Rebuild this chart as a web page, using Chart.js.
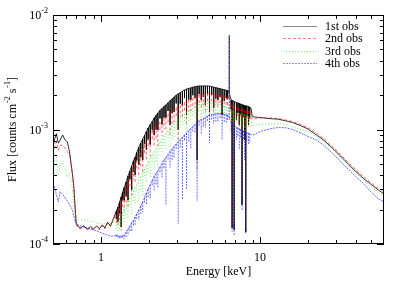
<!DOCTYPE html>
<html>
<head>
<meta charset="utf-8">
<script src="https://cdn.jsdelivr.net/npm/chart.js@4.4.1/dist/chart.umd.min.js"></script>
<style>
  html, body { margin: 0; padding: 0; background: #fff; }
</style>
</head>
<body>
<canvas id="spec" width="407" height="285"></canvas>
<script>
// energy grid shared by the four observations (keV)
var energy = [
  0.50, 0.51, 0.525, 0.54, 0.555, 0.575, 0.595, 0.615, 0.635, 0.655, 0.667, 0.677, 0.687, 0.70,
  0.72, 0.75, 0.78, 0.82, 0.86, 0.90, 0.94, 0.98, 1.02, 1.06, 1.10, 1.15, 1.20,
  1.25, 1.28, 1.31, 1.34, 1.37, 1.40, 1.44, 1.48, 1.52, 1.56,
  1.60, 1.64, 1.68, 1.73, 1.78, 1.83, 1.88, 1.93, 1.98, 2.04,
  2.10, 2.16, 2.22, 2.28, 2.35, 2.42, 2.49, 2.56, 2.64, 2.72,
  2.80, 2.88, 2.97, 3.06, 3.15, 3.25, 3.35, 3.45, 3.56, 3.67,
  3.78, 3.90, 4.02, 4.14, 4.27, 4.40, 4.53, 4.67, 4.81, 4.96,
  5.11, 5.27, 5.43, 5.60, 5.77, 5.95, 6.13, 6.25,
  6.32, 6.40, 6.47, 6.58, 6.67, 6.75, 6.87, 6.97, 7.10, 7.25,
  7.40, 7.55, 7.70, 7.85, 7.98, 8.12, 8.25, 8.45, 8.60, 8.80,
  8.90, 9.20, 9.60, 10.0, 11, 12, 13, 14.5, 16, 18, 20,
  22.5, 25, 28, 32, 36, 40, 45, 50, 55, 60
];

// upper envelope (continuum) of each spectrum, counts cm^-2 s^-1
var cont1 = [
  6.9e-4, 8.1e-4, 9.2e-4, 7.6e-4, 8.1e-4, 8.95e-4, 8.1e-4, 7.8e-4, 6.4e-4, 4.6e-4, 3.75e-4, 3.06e-4, 2.2e-4, 1.5e-4,
  1.42e-4, 1.38e-4, 1.44e-4, 1.35e-4, 1.42e-4, 1.35e-4, 1.44e-4, 1.36e-4, 1.47e-4, 1.38e-4, 1.55e-4, 1.44e-4, 1.68e-4,
  1.94e-4, 2.10e-4, 2.33e-4, 2.57e-4, 2.85e-4, 3.11e-4, 3.48e-4, 3.93e-4, 4.34e-4, 4.80e-4,
  5.31e-4, 5.75e-4, 6.3e-4, 7.03e-4, 7.62e-4, 8.26e-4, 8.86e-4, 9.57e-4, 1.03e-3, 1.106e-3,
  1.17e-3, 1.26e-3, 1.33e-3, 1.393e-3, 1.47e-3, 1.525e-3, 1.59e-3, 1.64e-3, 1.71e-3, 1.785e-3,
  1.85e-3, 1.923e-3, 1.99e-3, 2.05e-3, 2.10e-3, 2.16e-3, 2.21e-3, 2.257e-3, 2.285e-3, 2.31e-3,
  2.34e-3, 2.365e-3, 2.385e-3, 2.40e-3, 2.40e-3, 2.40e-3, 2.40e-3, 2.40e-3, 2.39e-3, 2.37e-3,
  2.345e-3, 2.32e-3, 2.30e-3, 2.275e-3, 2.25e-3, 2.225e-3, 2.20e-3, 2.19e-3,
  2.19e-3, 2.10e-3, 1.96e-3, 1.81e-3, 1.79e-3, 1.774e-3, 1.755e-3, 1.738e-3, 1.72e-3, 1.704e-3,
  1.687e-3, 1.67e-3, 1.65e-3, 1.636e-3, 1.62e-3, 1.61e-3, 1.604e-3, 1.59e-3, 1.572e-3, 1.51e-3,
  1.31e-3, 1.285e-3, 1.28e-3, 1.275e-3, 1.25e-3, 1.24e-3, 1.23e-3, 1.19e-3, 1.15e-3, 1.08e-3, 1.01e-3,
  9.0e-4, 8.1e-4, 7.03e-4, 5.87e-4, 4.95e-4, 4.28e-4, 3.70e-4, 3.30e-4, 2.98e-4, 2.73e-4
];
var cont2 = [
  6.2e-4, 6.9e-4, 7.8e-4, 6.6e-4, 7.3e-4, 7.3e-4, 6.9e-4, 6.4e-4, 6.0e-4, 4.6e-4, 3.75e-4, 2.96e-4, 2.1e-4, 1.47e-4,
  1.38e-4, 1.35e-4, 1.42e-4, 1.33e-4, 1.38e-4, 1.33e-4, 1.42e-4, 1.33e-4, 1.44e-4, 1.35e-4, 1.52e-4, 1.42e-4, 1.65e-4,
  1.79e-4, 1.90e-4, 2.06e-4, 2.24e-4, 2.47e-4, 2.68e-4, 2.99e-4, 3.34e-4, 3.73e-4, 4.13e-4,
  4.56e-4, 5.00e-4, 5.36e-4, 5.75e-4, 6.23e-4, 6.76e-4, 7.32e-4, 7.85e-4, 8.43e-4, 9.04e-4,
  9.70e-4, 1.04e-3, 1.084e-3, 1.117e-3, 1.162e-3, 1.21e-3, 1.26e-3, 1.30e-3, 1.357e-3, 1.407e-3,
  1.45e-3, 1.495e-3, 1.54e-3, 1.578e-3, 1.62e-3, 1.67e-3, 1.72e-3, 1.774e-3, 1.81e-3, 1.846e-3,
  1.884e-3, 1.935e-3, 1.97e-3, 2.00e-3, 2.02e-3, 2.04e-3, 2.06e-3, 2.067e-3, 2.07e-3, 2.063e-3,
  2.04e-3, 2.02e-3, 2.01e-3, 1.99e-3, 1.97e-3, 1.95e-3, 1.93e-3, 1.923e-3,
  1.92e-3, 1.85e-3, 1.774e-3, 1.67e-3, 1.63e-3, 1.604e-3, 1.59e-3, 1.572e-3, 1.556e-3, 1.54e-3,
  1.53e-3, 1.525e-3, 1.51e-3, 1.495e-3, 1.48e-3, 1.47e-3, 1.465e-3, 1.45e-3, 1.435e-3, 1.41e-3,
  1.235e-3, 1.235e-3, 1.248e-3, 1.26e-3, 1.265e-3, 1.26e-3, 1.248e-3, 1.21e-3, 1.174e-3, 1.106e-3, 1.035e-3,
  9.32e-4, 8.34e-4, 7.25e-4, 6.05e-4, 5.11e-4, 4.43e-4, 3.85e-4, 3.41e-4, 3.07e-4, 2.87e-4
];
var cont3 = [
  4.7e-4, 5.4e-4, 5.8e-4, 4.0e-4, 4.9e-4, 5.2e-4, 4.4e-4, 3.85e-4, 4.15e-4, 3.4e-4, 2.7e-4, 2.2e-4, 1.9e-4, 1.72e-4,
  1.65e-4, 1.62e-4, 1.62e-4, 1.6e-4, 1.57e-4, 1.57e-4, 1.52e-4, 1.52e-4, 1.5e-4, 1.5e-4, 1.47e-4, 1.5e-4, 1.55e-4,
  1.56e-4, 1.59e-4, 1.655e-4, 1.79e-4, 1.90e-4, 2.02e-4, 2.20e-4, 2.35e-4, 2.52e-4, 2.70e-4,
  2.90e-4, 3.11e-4, 3.31e-4, 3.62e-4, 3.89e-4, 4.17e-4, 4.52e-4, 4.85e-4, 5.20e-4, 5.64e-4,
  5.99e-4, 6.43e-4, 6.82e-4, 7.25e-4, 7.78e-4, 8.26e-4, 8.77e-4, 9.23e-4, 9.70e-4, 1.02e-3,
  1.073e-3, 1.117e-3, 1.174e-3, 1.222e-3, 1.272e-3, 1.325e-3, 1.365e-3, 1.407e-3, 1.45e-3, 1.495e-3,
  1.54e-3, 1.588e-3, 1.62e-3, 1.653e-3, 1.67e-3, 1.687e-3, 1.697e-3, 1.704e-3, 1.704e-3, 1.704e-3,
  1.697e-3, 1.687e-3, 1.677e-3, 1.66e-3, 1.636e-3, 1.604e-3, 1.572e-3, 1.556e-3,
  1.556e-3, 1.52e-3, 1.48e-3, 1.45e-3, 1.435e-3, 1.421e-3, 1.414e-3, 1.407e-3, 1.40e-3, 1.393e-3,
  1.387e-3, 1.38e-3, 1.372e-3, 1.365e-3, 1.355e-3, 1.345e-3, 1.338e-3, 1.31e-3, 1.285e-3, 1.21e-3,
  1.06e-3, 1.084e-3, 1.10e-3, 1.11e-3, 1.117e-3, 1.123e-3, 1.13e-3, 1.106e-3, 1.052e-3, 1.0e-3, 9.64e-4,
  8.68e-4, 7.82e-4, 6.83e-4, 5.7e-4, 4.8e-4, 4.14e-4, 3.59e-4, 3.16e-4, 2.82e-4, 2.57e-4
];
var cont4 = [
  3.06e-4, 3.2e-4, 2.68e-4, 2.34e-4, 2.86e-4, 2.72e-4, 2.53e-4, 2.38e-4, 2.2e-4, 2.05e-4, 1.9e-4, 1.75e-4, 1.62e-4, 1.52e-4,
  1.47e-4, 1.44e-4, 1.42e-4, 1.38e-4, 1.35e-4, 1.33e-4, 1.3e-4, 1.27e-4, 1.24e-4, 1.22e-4, 1.20e-4, 1.17e-4, 1.17e-4,
  1.20e-4, 1.185e-4, 1.17e-4, 1.17e-4, 1.185e-4, 1.20e-4, 1.27e-4, 1.35e-4, 1.44e-4, 1.53e-4,
  1.60e-4, 1.72e-4, 1.83e-4, 1.98e-4, 2.15e-4, 2.33e-4, 2.545e-4, 2.79e-4, 3.02e-4, 3.30e-4,
  3.59e-4, 3.89e-4, 4.13e-4, 4.38e-4, 4.70e-4, 5.04e-4, 5.42e-4, 5.70e-4, 6.05e-4, 6.43e-4,
  6.76e-4, 7.10e-4, 7.47e-4, 7.85e-4, 8.18e-4, 8.60e-4, 8.95e-4, 9.32e-4, 9.8e-4, 1.02e-3,
  1.062e-3, 1.106e-3, 1.15e-3, 1.198e-3, 1.222e-3, 1.247e-3, 1.272e-3, 1.312e-3, 1.338e-3, 1.35e-3,
  1.365e-3, 1.373e-3, 1.38e-3, 1.383e-3, 1.379e-3, 1.365e-3, 1.346e-3, 1.338e-3,
  1.31e-3, 1.26e-3, 1.21e-3, 1.16e-3, 1.14e-3, 1.117e-3, 1.095e-3, 1.073e-3, 1.05e-3, 1.031e-3,
  1.015e-3, 1.0e-3, 9.85e-4, 9.7e-4, 9.55e-4, 9.45e-4, 9.4e-4, 9.3e-4, 9.23e-4, 9.04e-4,
  8.95e-4, 9.04e-4, 9.32e-4, 9.6e-4, 9.94e-4, 1.025e-3, 1.04e-3, 1.035e-3, 1.0e-3, 9.32e-4, 8.7e-4,
  8.1e-4, 7.32e-4, 6.36e-4, 5.25e-4, 4.46e-4, 3.87e-4, 3.32e-4, 2.83e-4, 2.49e-4, 2.33e-4
];

// narrow lines: energies (on the grid above) and the flux each spike reaches
var lineEnergy = [
  1.25, 1.28, 1.31, 1.34, 1.37, 1.40, 1.44, 1.48, 1.52, 1.56,
  1.60, 1.64, 1.68, 1.73, 1.78, 1.83, 1.88, 1.93, 1.98, 2.04,
  2.10, 2.16, 2.22, 2.28, 2.35, 2.42, 2.49, 2.56, 2.64, 2.72,
  2.80, 2.88, 2.97, 3.06, 3.15, 3.25, 3.35, 3.45, 3.56, 3.67,
  3.78, 3.90, 4.02, 4.14, 4.27, 4.40, 4.53, 4.67, 4.81, 4.96,
  5.11, 5.27, 5.43, 5.60, 5.77, 5.95, 6.13, 6.25,
  6.40, 6.58, 6.67, 6.87, 7.10, 7.25, 7.40, 7.55, 7.70, 7.85, 7.98, 8.12, 8.25, 8.45, 8.60
];
var line1 = [
  1.65e-4, 1.56e-4, 1.86e-4, 1.41e-4, 2.42e-4, 2.40e-4, 2.61e-4, 2.42e-4, 3.69e-4, 2.96e-4,
  4.25e-4, 4.01e-4, 5.36e-4, 4.9e-4, 5.72e-4, 5.42e-4, 7.53e-4, 6.66e-4, 8.24e-4, 7.4e-4,
  9.95e-4, 8.95e-4, 9.98e-4, 9.9e-4, 1.25e-3, 1.11e-3, 1.27e-3, 1.27e-3, 1.45e-3, 1.10e-3,
  1.39e-3, 1.42e-3, 1.69e-3, 9.9e-4, 1.68e-3, 1.63e-3, 1.88e-3, 1.34e-3, 1.83e-3, 1.82e-3,
  1.99e-3, 1.89e-3, 5.4e-4, 2.04e-3, 1.81e-3, 1.92e-3, 1.64e-3, 2.04e-3, 1.42e-3, 2.01e-3,
  1.54e-3, 1.86e-3, 1.81e-3, 1.93e-3, 1.34e-3, 1.78e-3, 1.88e-3, 1.86e-3,
  6.7e-3, 1.5e-3, 1.38e-4, 1.33e-4, 1.21e-3, 1.4e-3, 1.10e-3, 1.35e-3, 2.2e-4, 1.3e-3, 8.1e-4, 1.27e-4, 1.3e-3, 1.10e-3, 1.25e-3
];
var line2 = [
  1.52e-4, 1.44e-4, 1.65e-4, 1.33e-4, 2.10e-4, 1.94e-4, 2.24e-4, 2.06e-4, 3.17e-4, 2.65e-4,
  3.65e-4, 3.34e-4, 4.56e-4, 3.85e-4, 4.67e-4, 4.17e-4, 6.22e-4, 5.48e-4, 6.74e-4, 5.81e-4,
  8.25e-4, 7.25e-4, 8.13e-4, 7.18e-4, 9.88e-4, 8.77e-4, 1.01e-3, 9.6e-4, 1.15e-3, 9.04e-4,
  1.09e-3, 1.13e-3, 1.31e-3, 7.97e-4, 1.30e-3, 1.26e-3, 1.46e-3, 1.10e-3, 1.45e-3, 1.45e-3,
  1.60e-3, 1.55e-3, 4.43e-4, 1.70e-3, 1.53e-3, 1.63e-3, 1.43e-3, 1.76e-3, 1.33e-3, 1.75e-3,
  1.42e-3, 1.62e-3, 1.58e-3, 1.69e-3, 1.27e-3, 1.56e-3, 1.64e-3, 1.63e-3,
  6.55e-3, 1.40e-3, 1.44e-4, 1.38e-4, 1.16e-3, 1.30e-3, 1.03e-3, 1.25e-3, 2.42e-4, 1.22e-3, 8.1e-4, 1.33e-4, 1.20e-3, 1.07e-3, 1.18e-3
];
var line3 = [
  1.33e-4, 1.30e-4, 1.32e-4, 1.30e-4, 1.62e-4, 1.53e-4, 1.65e-4, 1.64e-4, 2.14e-4, 1.81e-4,
  2.32e-4, 2.17e-4, 2.81e-4, 2.42e-4, 2.92e-4, 2.68e-4, 3.84e-4, 3.52e-4, 4.16e-4, 3.77e-4,
  5.09e-4, 4.66e-4, 5.12e-4, 4.66e-4, 6.61e-4, 6.23e-4, 7.02e-4, 6.69e-4, 8.25e-4, 6.56e-4,
  8.05e-4, 8.43e-4, 9.98e-4, 6.69e-4, 1.02e-3, 1.04e-3, 1.16e-3, 9.04e-4, 1.16e-3, 1.22e-3,
  1.31e-3, 1.27e-3, 3.62e-4, 1.41e-3, 1.26e-3, 1.35e-3, 1.18e-3, 1.45e-3, 1.14e-3, 1.45e-3,
  1.23e-3, 1.35e-3, 1.37e-3, 1.41e-3, 1.10e-3, 1.28e-3, 1.34e-3, 1.32e-3,
  6.43e-3, 1.22e-3, 1.50e-4, 1.44e-4, 1.10e-3, 1.18e-3, 9.9e-4, 1.15e-3, 2.52e-4, 1.12e-3, 8.1e-4, 1.38e-4, 1.10e-3, 1.03e-3, 1.06e-3
];
var line4 = [
  1.14e-4, 1.11e-4, 1.11e-4, 1.10e-4, 1.13e-4, 1.10e-4, 1.14e-4, 1.19e-4, 1.30e-4, 1.30e-4,
  1.44e-4, 1.47e-4, 1.65e-4, 1.62e-4, 1.83e-4, 1.90e-4, 2.29e-4, 2.20e-4, 2.57e-4, 2.49e-4,
  3.23e-4, 2.93e-4, 3.30e-4, 3.05e-4, 4.23e-4, 3.81e-4, 4.61e-4, 2.2e-4, 5.45e-4, 4.66e-4,
  5.41e-4, 5.58e-4, 6.72e-4, 1.50e-4, 6.95e-4, 2.42e-4, 8.06e-4, 2.96e-4, 7.84e-4, 6.83e-4,
  9.56e-4, 9.4e-4, 2.36e-4, 1.08e-3, 9.04e-4, 1.06e-3, 1.04e-3, 1.18e-3, 7.62e-4, 1.215e-3,
  1.12e-3, 1.17e-3, 1.175e-3, 1.245e-3, 8.18e-4, 1.16e-3, 1.146e-3, 1.20e-3,
  6.28e-3, 9.5e-4, 1.27e-4, 1.17e-4, 8.1e-4, 8.6e-4, 6.62e-4, 8.3e-4, 1.98e-4, 8.0e-4, 5.42e-4, 1.22e-4, 7.8e-4, 7.32e-4, 7.6e-4
];

var seriesLabels = ['1st obs', '2nd obs', '3rd obs', '4th obs'];
var seriesColors = ['#000000', '#ff0000', '#00e600', '#0000ff'];
var legendColors = ['#888888', '#ff8080', '#80f080', '#9090ff'];
var seriesDash = [[], [3, 2], [1, 2], [2, 1]];
var xMajor = [1, 10];
var xMinor = [0.6, 0.7, 0.8, 0.9, 2, 3, 4, 5, 6, 7, 8, 9, 20, 30, 40, 50];
var yMajor = [1e-4, 1e-3, 1e-2];
var yMajorExp = ['-4', '-3', '-2'];
var yMinor = [2e-4, 3e-4, 4e-4, 5e-4, 6e-4, 7e-4, 8e-4, 9e-4, 2e-3, 3e-3, 4e-3, 5e-3, 6e-3, 7e-3, 8e-3, 9e-3];

var FONT = '"Liberation Serif", "Times New Roman", serif';

function contPoints(values) {
  var pts = [];
  for (var i = 0; i < energy.length; i++) {
    pts.push({x: energy[i], y: values[i]});
  }
  return pts;
}

// each spike: vertical segment from the continuum to the line value, then a gap
function linePoints(cont, ends) {
  var pts = [];
  for (var i = 0; i < lineEnergy.length; i++) {
    var k = energy.indexOf(lineEnergy[i]);
    pts.push({x: lineEnergy[i], y: cont[k]});
    pts.push({x: lineEnergy[i], y: ends[i]});
    pts.push({x: lineEnergy[i], y: null});
  }
  return pts;
}

function makeSet(label, pts, n, order) {
  return {
    label: label,
    data: pts,
    borderColor: seriesColors[n],
    borderWidth: n == 0 ? 0.8 : 0.6,
    borderDash: seriesDash[n],
    borderJoinStyle: 'bevel',
    pointRadius: 0,
    fill: false,
    tension: 0,
    spanGaps: false,
    order: order
  };
}

function drawSupText(ctx, base, sup, xRight, y) {
  ctx.font = '8px ' + FONT;
  var ws = ctx.measureText(sup).width;
  ctx.textAlign = 'right';
  ctx.fillText(sup, xRight, y - 4);
  ctx.font = '12px ' + FONT;
  ctx.fillText(base, xRight - ws, y + 1);
}

// legend sample drawn as small filled dashes
function legendSample(ctx, x0, x1, y, color, dash) {
  ctx.fillStyle = color;
  if (!dash.length) {
    ctx.fillRect(x0, y, x1 - x0, 1);
    return;
  }
  var x = x0, j = 0;
  while (x < x1) {
    var len = dash[j % dash.length];
    if (j % 2 == 0) ctx.fillRect(x, y, Math.min(len, x1 - x), 1);
    x += len;
    j++;
  }
}

var framePlugin = {
  id: 'frame',
  afterDatasetsDraw: function(chart) {
    var ctx = chart.ctx, a = chart.chartArea;
    var xs = chart.scales.x, ys = chart.scales.y;
    var i, p;
    ctx.save();
    ctx.strokeStyle = '#000';
    ctx.fillStyle = '#000';
    ctx.lineWidth = 1;
    ctx.setLineDash([]);
    ctx.strokeRect(a.left + 0.5, a.top + 0.5, a.right - a.left - 1, a.bottom - a.top - 1);

    // inward ticks on all four sides
    ctx.beginPath();
    function xTick(v, len) {
      p = Math.round(xs.getPixelForValue(v)) + 0.5;
      ctx.moveTo(p, a.bottom); ctx.lineTo(p, a.bottom - len);
      ctx.moveTo(p, a.top); ctx.lineTo(p, a.top + len);
    }
    function yTick(v, len) {
      p = Math.round(ys.getPixelForValue(v)) + 0.5;
      ctx.moveTo(a.left, p); ctx.lineTo(a.left + len, p);
      ctx.moveTo(a.right, p); ctx.lineTo(a.right - len, p);
    }
    for (i = 0; i < xMajor.length; i++) xTick(xMajor[i], 7);
    for (i = 0; i < xMinor.length; i++) xTick(xMinor[i], 4);
    for (i = 0; i < yMajor.length; i++) yTick(yMajor[i], 7);
    for (i = 0; i < yMinor.length; i++) yTick(yMinor[i], 4);
    ctx.stroke();

    // tick labels
    ctx.textBaseline = 'middle';
    ctx.font = '12px ' + FONT;
    ctx.textAlign = 'center';
    for (i = 0; i < xMajor.length; i++) {
      ctx.fillText(String(xMajor[i]), xs.getPixelForValue(xMajor[i]), a.bottom + 14);
    }
    for (i = 0; i < yMajor.length; i++) {
      drawSupText(ctx, '10', yMajorExp[i], a.left - 5, ys.getPixelForValue(yMajor[i]));
    }

    // axis titles
    ctx.font = '12px ' + FONT;
    ctx.textAlign = 'center';
    ctx.fillText('Energy [keV]', (a.left + a.right) / 2, 272);

    var parts = [['Flux [counts cm', 0], ['-2', 1], [' s', 0], ['-1', 1], [']', 0]];
    var total = 0, w = [];
    for (i = 0; i < parts.length; i++) {
      ctx.font = (parts[i][1] ? '8px ' : '12px ') + FONT;
      w.push(ctx.measureText(parts[i][0]).width + (parts[i][1] ? 1 : 0));
      total += w[i];
    }
    ctx.save();
    ctx.translate(13, (a.top + a.bottom) / 2);
    ctx.rotate(-Math.PI / 2);
    ctx.textAlign = 'left';
    var cx = -total / 2;
    for (i = 0; i < parts.length; i++) {
      ctx.font = (parts[i][1] ? '8px ' : '12px ') + FONT;
      ctx.fillText(parts[i][0], cx + (parts[i][1] ? 1 : 0), parts[i][1] ? -5 : 0);
      cx += w[i];
    }
    ctx.restore();

    // legend
    for (i = 0; i < seriesLabels.length; i++) {
      var ly = Math.round(a.top + 10.5 + i * 12.5);
      legendSample(ctx, 283, 317, ly, legendColors[i], seriesDash[i]);
      ctx.font = '12px ' + FONT;
      ctx.textAlign = 'left';
      ctx.fillStyle = '#000';
      ctx.fillText(seriesLabels[i], 325, ly + 0.5);
    }
    ctx.restore();
  }
};

var conts = [cont1, cont2, cont3, cont4];
var lines = [line1, line2, line3, line4];
var datasets = [];
for (var n = 0; n < 4; n++) {
  datasets.push(makeSet(seriesLabels[n], contPoints(conts[n]), n, 8 - 2 * n));
  datasets.push(makeSet(seriesLabels[n] + ' lines', linePoints(conts[n], lines[n]), n, 7 - 2 * n));
}

var chart = new Chart(document.getElementById('spec'), {
  type: 'line',
  data: { datasets: datasets },
  options: {
    responsive: false,
    animation: false,
    devicePixelRatio: 1,
    layout: { padding: { left: 53, right: 23, top: 15, bottom: 41 } },
    plugins: { legend: { display: false }, tooltip: { enabled: false } },
    scales: {
      x: { type: 'logarithmic', min: 0.5, max: 60, display: false },
      y: { type: 'logarithmic', min: 1e-4, max: 1e-2, display: false }
    }
  },
  plugins: [framePlugin]
});
</script>
</body>
</html>
